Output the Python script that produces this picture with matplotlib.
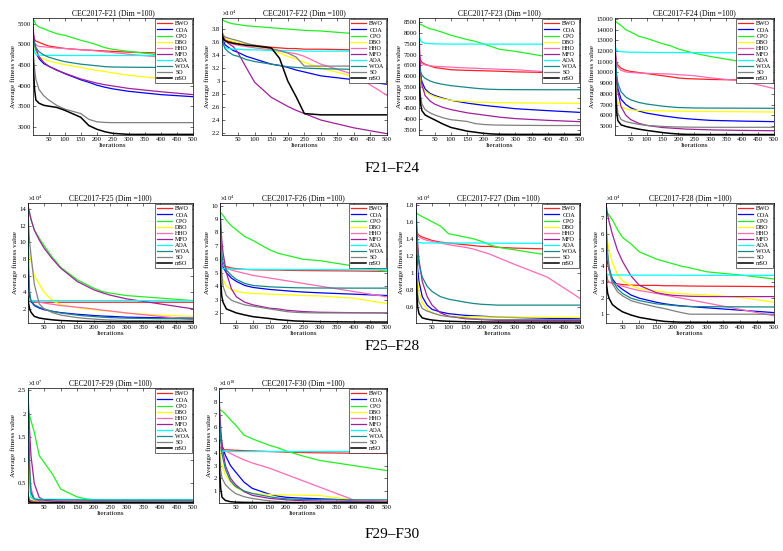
import matplotlib
matplotlib.use("Agg")
import matplotlib.pyplot as plt
from matplotlib.ticker import FuncFormatter

plt.rcParams['font.family'] = ['Liberation Serif', 'DejaVu Serif']
plt.rcParams['mathtext.fontset'] = 'stix'

algorithms = ["BWO", "COA", "CPO", "DBO", "HHO", "MFO", "AOA", "WOA", "SO", "mSO"]
colors = ["#ff2020", "#0000ff", "#20f020", "#ffff00", "#ff69b4",
          "#a0209a", "#00ffff", "#168888", "#808080", "#000000"]

iters = [1, 3, 6, 10, 20, 35, 50, 75, 100, 150, 175, 200, 225, 250, 300, 400, 500]

# rows follow the order of `algorithms`; values in the units shown on the y axis
F21 = [
    [5350, 5200, 5120, 5080, 5050, 5000, 4960, 4930, 4900, 4870, 4860, 4850, 4840, 4830, 4810, 4790, 4780],
    [5100, 5000, 4900, 4800, 4650, 4530, 4470, 4380, 4290, 4140, 4080, 4010, 3960, 3920, 3860, 3780, 3730],
    [5640, 5600, 5550, 5480, 5420, 5380, 5330, 5260, 5220, 5100, 5050, 4990, 4920, 4880, 4830, 4740, 4580],
    [5000, 4950, 4880, 4800, 4700, 4640, 4600, 4550, 4510, 4440, 4400, 4370, 4340, 4310, 4250, 4170, 4060],
    [5200, 5100, 5020, 4980, 4950, 4940, 4930, 4910, 4900, 4870, 4860, 4840, 4820, 4800, 4760, 4690, 4620],
    [5450, 5250, 5050, 4900, 4700, 4560, 4470, 4370, 4300, 4160, 4110, 4060, 4020, 3990, 3930, 3850, 3780],
    [5050, 4900, 4800, 4760, 4740, 4735, 4735, 4732, 4730, 4730, 4730, 4730, 4730, 4729, 4729, 4728, 4728],
    [5200, 5100, 5000, 4920, 4820, 4740, 4690, 4630, 4580, 4520, 4500, 4480, 4460, 4450, 4445, 4440, 4440],
    [5100, 4700, 4400, 4150, 3900, 3750, 3650, 3520, 3430, 3320, 3180, 3120, 3105, 3100, 3100, 3100, 3100],
    [4900, 4300, 3900, 3650, 3570, 3520, 3500, 3470, 3400, 3230, 3030, 2940, 2880, 2840, 2815, 2815, 2815],
]
F22 = [
    [3.78, 3.72, 3.68, 3.65, 3.62, 3.60, 3.58, 3.56, 3.55, 3.52, 3.51, 3.50, 3.50, 3.49, 3.49, 3.48, 3.48],
    [3.72, 3.66, 3.60, 3.56, 3.52, 3.47, 3.44, 3.38, 3.34, 3.26, 3.24, 3.21, 3.17, 3.14, 3.08, 3.02, 2.95],
    [3.95, 3.94, 3.93, 3.92, 3.90, 3.88, 3.87, 3.85, 3.84, 3.82, 3.81, 3.80, 3.79, 3.78, 3.77, 3.73, 3.70],
    [3.74, 3.70, 3.67, 3.65, 3.63, 3.61, 3.59, 3.56, 3.53, 3.48, 3.43, 3.38, 3.34, 3.29, 3.20, 3.07, 2.97],
    [3.72, 3.68, 3.65, 3.63, 3.60, 3.57, 3.55, 3.53, 3.51, 3.48, 3.46, 3.44, 3.42, 3.38, 3.26, 3.10, 2.78],
    [3.80, 3.72, 3.67, 3.63, 3.58, 3.53, 3.43, 3.20, 2.98, 2.75, 2.68, 2.61, 2.55, 2.50, 2.40, 2.28, 2.19],
    [3.75, 3.62, 3.55, 3.52, 3.50, 3.49, 3.49, 3.48, 3.48, 3.47, 3.47, 3.47, 3.47, 3.46, 3.46, 3.46, 3.46],
    [3.70, 3.62, 3.56, 3.50, 3.45, 3.40, 3.38, 3.33, 3.30, 3.26, 3.24, 3.22, 3.21, 3.20, 3.19, 3.18, 3.18],
    [3.76, 3.72, 3.70, 3.68, 3.66, 3.64, 3.62, 3.58, 3.55, 3.50, 3.47, 3.43, 3.37, 3.23, 3.23, 3.23, 3.23],
    [3.72, 3.68, 3.64, 3.62, 3.60, 3.58, 3.57, 3.55, 3.54, 3.51, 3.35, 3.00, 2.76, 2.50, 2.48, 2.48, 2.48],
]
F23 = [
    [7100, 6900, 6750, 6650, 6550, 6480, 6400, 6350, 6300, 6270, 6260, 6250, 6240, 6230, 6200, 6170, 6130],
    [6800, 6300, 6000, 5750, 5400, 5200, 5100, 4980, 4880, 4750, 4700, 4650, 4610, 4570, 4490, 4400, 4320],
    [8450, 8420, 8400, 8380, 8300, 8200, 8150, 8030, 7900, 7700, 7620, 7500, 7380, 7250, 7150, 6900, 6670],
    [7200, 6200, 5700, 5500, 5300, 5150, 5050, 4950, 4880, 4820, 4800, 4790, 4780, 4770, 4760, 4750, 4740],
    [6950, 6750, 6650, 6580, 6520, 6480, 6460, 6440, 6420, 6380, 6370, 6350, 6340, 6320, 6300, 6200, 5880],
    [8650, 7200, 6200, 5600, 5100, 4850, 4700, 4550, 4450, 4300, 4250, 4200, 4150, 4100, 4030, 3950, 3890],
    [8000, 7800, 7650, 7580, 7530, 7510, 7500, 7495, 7490, 7490, 7490, 7488, 7488, 7487, 7486, 7485, 7485],
    [6900, 6400, 6200, 6050, 5900, 5780, 5700, 5620, 5560, 5480, 5440, 5410, 5390, 5380, 5375, 5370, 5370],
    [6900, 5800, 5100, 4700, 4450, 4300, 4200, 4070, 3980, 3900, 3800, 3760, 3740, 3730, 3720, 3710, 3710],
    [6700, 5300, 4700, 4400, 4200, 4080, 3970, 3780, 3620, 3450, 3400, 3350, 3320, 3305, 3300, 3300, 3300],
]
F24 = [
    [12300, 11500, 11000, 10700, 10400, 10200, 10100, 10000, 9900, 9700, 9600, 9480, 9430, 9400, 9350, 9300, 9250],
    [12500, 10500, 9300, 8500, 7500, 7000, 6700, 6400, 6200, 5950, 5850, 5750, 5680, 5620, 5520, 5450, 5400],
    [15000, 14800, 14700, 14600, 14400, 14000, 13800, 13400, 13200, 12700, 12500, 12200, 12000, 11800, 11500, 11000, 10600],
    [11500, 9000, 7800, 7200, 6800, 6600, 6500, 6450, 6420, 6400, 6390, 6380, 6370, 6360, 6350, 6330, 6300],
    [12800, 11500, 10800, 10500, 10200, 10050, 10000, 9950, 9920, 9880, 9850, 9800, 9750, 9700, 9500, 9200, 8500],
    [14800, 11500, 9500, 8200, 6800, 6000, 5600, 5250, 5050, 4850, 4800, 4750, 4700, 4680, 4630, 4580, 4550],
    [12600, 12300, 12100, 12000, 11950, 11920, 11900, 11900, 11880, 11870, 11870, 11860, 11860, 11860, 11850, 11850, 11850],
    [12800, 11000, 9800, 9000, 8200, 7700, 7450, 7200, 7050, 6850, 6780, 6720, 6700, 6680, 6670, 6660, 6650],
    [12200, 9000, 7200, 6200, 5600, 5400, 5300, 5150, 5050, 4950, 4920, 4900, 4890, 4880, 4870, 4870, 4870],
    [11800, 8000, 6300, 5500, 5100, 4950, 4850, 4700, 4580, 4380, 4300, 4240, 4210, 4200, 4190, 4190, 4190],
]
F25 = [
    [3.5, 3.0, 2.9, 2.85, 2.8, 2.8, 2.8, 2.8, 2.8, 2.8, 2.8, 2.8, 2.8, 2.8, 2.8, 2.8, 2.8],
    [10, 5, 3.5, 2.9, 2.4, 2.1, 1.9, 1.7, 1.55, 1.35, 1.28, 1.2, 1.14, 1.1, 1.0, 0.93, 0.88],
    [14.6, 14, 13.5, 12.8, 11.5, 10.5, 9.6, 8.2, 7.0, 5.5, 5.0, 4.5, 4.1, 3.9, 3.6, 3.3, 3.0],
    [9.6, 9.0, 8.5, 7.8, 6.0, 5.0, 4.0, 3.0, 2.5, 2.15, 2.0, 1.9, 1.8, 1.7, 1.5, 1.25, 1.1],
    [3.3, 3.1, 3.0, 3.0, 2.9, 2.8, 2.7, 2.55, 2.4, 2.2, 2.1, 2.0, 1.85, 1.75, 1.5, 1.1, 0.7],
    [14.7, 14, 13.5, 12.8, 11.5, 10.3, 9.3, 8.0, 6.9, 5.3, 4.8, 4.3, 3.95, 3.65, 3.2, 2.6, 2.0],
    [3.2, 3.1, 3.05, 3.0, 3.0, 3.0, 3.0, 3.0, 3.0, 3.0, 3.0, 3.0, 3.0, 3.0, 3.0, 2.98, 2.98],
    [14, 7, 4, 3, 2.5, 2.2, 2.0, 1.7, 1.5, 1.25, 1.15, 1.08, 1.0, 0.95, 0.88, 0.82, 0.8],
    [14, 12, 10, 8.5, 5, 2.6, 2.0, 1.55, 1.25, 0.95, 0.85, 0.78, 0.7, 0.65, 0.6, 0.56, 0.55],
    [3.3, 2.6, 2.0, 1.6, 1.1, 0.9, 0.8, 0.68, 0.6, 0.52, 0.5, 0.48, 0.47, 0.46, 0.45, 0.45, 0.45],
]
F26 = [
    [6.2, 5.8, 5.6, 5.5, 5.45, 5.35, 5.3, 5.25, 5.22, 5.2, 5.2, 5.18, 5.17, 5.16, 5.15, 5.13, 5.1],
    [6.9, 6.3, 5.8, 5.4, 5.0, 4.6, 4.35, 4.05, 3.9, 3.75, 3.7, 3.65, 3.6, 3.56, 3.5, 3.4, 3.3],
    [9.6, 9.5, 9.4, 9.3, 8.9, 8.5, 8.2, 7.7, 7.4, 6.7, 6.45, 6.3, 6.15, 6.0, 5.9, 5.5, 5.1],
    [6.0, 5.2, 4.8, 4.5, 4.0, 3.75, 3.62, 3.5, 3.45, 3.4, 3.38, 3.36, 3.33, 3.3, 3.27, 3.1, 2.7],
    [6.0, 5.7, 5.6, 5.5, 5.35, 5.2, 5.1, 4.95, 4.8, 4.6, 4.5, 4.4, 4.3, 4.2, 4.0, 3.6, 3.2],
    [10.2, 9.0, 7.5, 6.5, 5.0, 3.8, 3.2, 2.8, 2.6, 2.35, 2.3, 2.2, 2.15, 2.1, 2.05, 2.02, 2.0],
    [5.6, 5.4, 5.35, 5.3, 5.28, 5.27, 5.26, 5.25, 5.25, 5.24, 5.24, 5.24, 5.23, 5.23, 5.23, 5.22, 5.22],
    [9.8, 8.0, 6.5, 5.8, 5.2, 4.8, 4.5, 4.2, 4.05, 3.95, 3.92, 3.9, 3.88, 3.87, 3.86, 3.85, 3.85],
    [9.8, 7.0, 5.0, 4.0, 3.3, 2.95, 2.8, 2.6, 2.5, 2.3, 2.2, 2.1, 2.05, 2.02, 2.0, 2.0, 2.0],
    [6.5, 4.5, 3.3, 2.8, 2.3, 2.15, 2.0, 1.85, 1.72, 1.58, 1.5, 1.45, 1.4, 1.38, 1.35, 1.33, 1.32],
]
F27 = [
    [1.52, 1.48, 1.46, 1.44, 1.42, 1.40, 1.38, 1.36, 1.35, 1.33, 1.32, 1.31, 1.31, 1.30, 1.29, 1.28, 1.26],
    [1.55, 1.3, 1.05, 0.9, 0.72, 0.62, 0.57, 0.54, 0.52, 0.50, 0.495, 0.49, 0.485, 0.48, 0.475, 0.465, 0.46],
    [1.72, 1.70, 1.69, 1.68, 1.66, 1.63, 1.60, 1.55, 1.46, 1.42, 1.40, 1.37, 1.33, 1.30, 1.27, 1.21, 1.15],
    [1.35, 1.1, 0.9, 0.78, 0.65, 0.57, 0.53, 0.50, 0.49, 0.485, 0.483, 0.482, 0.48, 0.48, 0.48, 0.478, 0.475],
    [1.52, 1.48, 1.45, 1.42, 1.40, 1.38, 1.37, 1.35, 1.33, 1.30, 1.28, 1.25, 1.22, 1.18, 1.10, 0.95, 0.70],
    [1.80, 1.60, 1.35, 1.15, 0.90, 0.72, 0.62, 0.53, 0.49, 0.46, 0.455, 0.45, 0.445, 0.44, 0.44, 0.44, 0.44],
    [1.38, 1.37, 1.36, 1.355, 1.35, 1.35, 1.35, 1.35, 1.35, 1.35, 1.35, 1.35, 1.348, 1.348, 1.347, 1.346, 1.345],
    [1.75, 1.45, 1.25, 1.10, 0.95, 0.84, 0.78, 0.72, 0.69, 0.655, 0.64, 0.63, 0.625, 0.62, 0.62, 0.62, 0.62],
    [1.30, 0.95, 0.75, 0.66, 0.58, 0.55, 0.53, 0.50, 0.485, 0.47, 0.46, 0.455, 0.452, 0.45, 0.45, 0.45, 0.45],
    [1.20, 0.80, 0.60, 0.52, 0.47, 0.455, 0.445, 0.435, 0.43, 0.425, 0.423, 0.422, 0.421, 0.42, 0.42, 0.42, 0.42],
]
F28 = [
    [4.3, 3.5, 3.1, 3.0, 2.95, 2.9, 2.85, 2.82, 2.8, 2.8, 2.78, 2.78, 2.77, 2.76, 2.75, 2.74, 2.72],
    [5.5, 4.8, 4.2, 3.8, 3.2, 2.8, 2.55, 2.2, 2.0, 1.75, 1.65, 1.58, 1.52, 1.48, 1.4, 1.25, 1.1],
    [7.5, 7.4, 7.3, 7.2, 6.9, 6.3, 5.8, 5.4, 4.9, 4.45, 4.3, 4.15, 4.0, 3.9, 3.65, 3.45, 3.2],
    [6.6, 6.0, 5.5, 5.0, 4.2, 3.5, 3.1, 2.8, 2.6, 2.45, 2.38, 2.32, 2.28, 2.25, 2.2, 2.05, 1.75],
    [3.5, 3.2, 3.05, 3.0, 2.95, 2.85, 2.75, 2.6, 2.48, 2.3, 2.2, 2.1, 2.0, 1.9, 1.7, 1.3, 0.9],
    [8.0, 7.6, 7.2, 6.8, 6.0, 5.0, 4.3, 3.4, 2.8, 2.35, 2.25, 2.18, 2.15, 2.12, 2.1, 2.1, 2.1],
    [3.6, 3.5, 3.48, 3.45, 3.45, 3.45, 3.45, 3.44, 3.44, 3.44, 3.44, 3.44, 3.43, 3.43, 3.43, 3.43, 3.43],
    [7.6, 6.0, 4.8, 4.0, 3.1, 2.6, 2.3, 2.0, 1.85, 1.65, 1.6, 1.55, 1.5, 1.48, 1.47, 1.46, 1.45],
    [7.0, 5.5, 4.5, 3.8, 2.9, 2.4, 2.15, 1.85, 1.7, 1.45, 1.35, 1.22, 1.1, 1.0, 1.0, 1.0, 1.0],
    [3.5, 2.8, 2.3, 2.0, 1.6, 1.35, 1.15, 0.95, 0.8, 0.62, 0.55, 0.52, 0.5, 0.5, 0.5, 0.5, 0.5],
]
F29 = [
    [0.3, 0.2, 0.15, 0.13, 0.12, 0.12, 0.12, 0.12, 0.12, 0.12, 0.12, 0.12, 0.12, 0.12, 0.12, 0.12, 0.12],
    [1.5, 0.9, 0.5, 0.3, 0.15, 0.12, 0.11, 0.1, 0.1, 0.1, 0.1, 0.1, 0.1, 0.1, 0.1, 0.1, 0.1],
    [2.05, 2.02, 1.95, 1.85, 1.6, 1.1, 0.95, 0.7, 0.38, 0.21, 0.17, 0.15, 0.14, 0.13, 0.12, 0.115, 0.11],
    [1.0, 0.6, 0.35, 0.2, 0.13, 0.11, 0.1, 0.1, 0.1, 0.1, 0.1, 0.09, 0.09, 0.09, 0.09, 0.09, 0.09],
    [2.2, 1.6, 0.9, 0.4, 0.15, 0.12, 0.11, 0.1, 0.1, 0.1, 0.1, 0.1, 0.1, 0.1, 0.1, 0.1, 0.1],
    [2.45, 2.1, 1.6, 1.1, 0.5, 0.2, 0.14, 0.12, 0.11, 0.1, 0.1, 0.1, 0.1, 0.1, 0.1, 0.1, 0.1],
    [2.5, 1.5, 0.5, 0.2, 0.16, 0.16, 0.16, 0.16, 0.16, 0.155, 0.155, 0.155, 0.15, 0.15, 0.15, 0.15, 0.15],
    [2.5, 1.8, 0.8, 0.3, 0.17, 0.15, 0.15, 0.15, 0.145, 0.145, 0.14, 0.14, 0.14, 0.14, 0.14, 0.14, 0.14],
    [0.3, 0.2, 0.14, 0.11, 0.1, 0.1, 0.095, 0.095, 0.09, 0.09, 0.09, 0.09, 0.09, 0.09, 0.09, 0.09, 0.09],
    [0.2, 0.12, 0.1, 0.09, 0.088, 0.087, 0.086, 0.086, 0.085, 0.085, 0.085, 0.085, 0.085, 0.085, 0.085, 0.085, 0.085],
]
F30 = [
    [4.4, 4.3, 4.28, 4.26, 4.24, 4.22, 4.2, 4.17, 4.15, 4.1, 4.08, 4.05, 4.03, 4.02, 4.0, 3.97, 3.95],
    [7.0, 6.2, 5.3, 4.6, 3.8, 3.0, 2.5, 1.7, 1.2, 0.75, 0.6, 0.5, 0.46, 0.43, 0.38, 0.28, 0.15],
    [7.5, 7.4, 7.35, 7.3, 7.05, 6.6, 6.2, 5.4, 5.1, 4.6, 4.4, 4.15, 3.95, 3.75, 3.4, 3.0, 2.6],
    [5.0, 4.3, 3.6, 3.0, 2.3, 1.7, 1.3, 0.95, 0.8, 0.72, 0.7, 0.68, 0.67, 0.66, 0.64, 0.3, 0.15],
    [4.6, 4.5, 4.4, 4.3, 4.15, 3.95, 3.75, 3.45, 3.2, 2.8, 2.55, 2.3, 2.05, 1.8, 1.3, 0.3, 0.2],
    [8.8, 7.5, 6.0, 4.6, 3.0, 2.0, 1.5, 0.95, 0.65, 0.42, 0.36, 0.3, 0.26, 0.23, 0.2, 0.16, 0.13],
    [4.4, 4.25, 4.2, 4.15, 4.12, 4.1, 4.1, 4.1, 4.1, 4.1, 4.1, 4.1, 4.1, 4.1, 4.1, 4.1, 4.1],
    [8.0, 6.5, 5.0, 3.9, 2.7, 1.8, 1.35, 1.0, 0.8, 0.55, 0.45, 0.38, 0.35, 0.33, 0.31, 0.3, 0.3],
    [5.4, 3.8, 2.6, 2.0, 1.5, 1.1, 0.8, 0.55, 0.4, 0.22, 0.17, 0.13, 0.12, 0.11, 0.1, 0.1, 0.1],
    [5.0, 2.5, 1.2, 0.5, 0.25, 0.15, 0.12, 0.1, 0.09, 0.08, 0.08, 0.07, 0.07, 0.07, 0.07, 0.07, 0.07],
]

panels = [F21, F22, F23, F24, F25, F26, F27, F28, F29, F30]
names = ["F21", "F22", "F23", "F24", "F25", "F26", "F27", "F28", "F29", "F30"]
exponents = [0, 4, 0, 0, 4, 4, 4, 4, 7, 10]
ylims = [(2800, 5640), (2.17, 3.97), (3270, 8700), (4150, 15100), (0.3, 14.75),
         (1.25, 10.2), (0.41, 1.82), (0.45, 7.95), (0.08, 2.55), (0.05, 9.1)]
yticks = [[3000, 3500, 4000, 4500, 5000, 5500],
          [2.2, 2.4, 2.6, 2.8, 3.0, 3.2, 3.4, 3.6, 3.8],
          [3500, 4000, 4500, 5000, 5500, 6000, 6500, 7000, 7500, 8000, 8500],
          [5000, 6000, 7000, 8000, 9000, 10000, 11000, 12000, 13000, 14000, 15000],
          [2, 4, 6, 8, 10, 12, 14],
          [2, 3, 4, 5, 6, 7, 8, 9, 10],
          [0.6, 0.8, 1.0, 1.2, 1.4, 1.6, 1.8],
          [1, 2, 3, 4, 5, 6, 7],
          [0.5, 1.0, 1.5, 2.0, 2.5],
          [1, 2, 3, 4, 5, 6, 7, 8, 9]]
xticks = [50, 100, 150, 200, 250, 300, 350, 400, 450, 500]

W, H = 783, 551
# axes boxes in pixels: left, top, right, bottom
boxes = [(33, 18, 193, 135), (222, 18, 387, 135), (419, 18, 580, 135), (615, 18, 774, 135),
         (28, 203, 193, 323), (220, 203, 387, 323), (416, 203, 580, 323), (606, 203, 774, 323),
         (28, 388, 193, 503), (219, 388, 387, 503)]

fig = plt.figure(figsize=(W / 100, H / 100), dpi=100)
gfmt = FuncFormatter(lambda v, pos: "%g" % round(v, 6))

for k, data in enumerate(panels):
    l, t, r, b = boxes[k]
    ax = fig.add_axes([l / W, 1 - b / H, (r - l) / W, (b - t) / H])
    for i, name in enumerate(algorithms):
        ax.plot(iters, data[i], color=colors[i], lw=1.1 if name == "mSO" else 0.9, label=name)
    ax.set_xlim(1, 500)
    ax.set_ylim(ylims[k])
    ax.set_xticks(xticks)
    ax.set_yticks(yticks[k])
    ax.yaxis.set_major_formatter(gfmt)
    if exponents[k]:
        ax.text(0.0, 1.005, r"$\times\mathregular{10^{%d}}$" % exponents[k],
                transform=ax.transAxes, fontsize=4.5, ha="left", va="bottom")
    ax.tick_params(direction='in', length=2, width=0.4, labelsize=4.8, pad=1.5,
                   top=True, right=True)
    for s in ax.spines.values():
        s.set_linewidth(0.5)
    ax.set_title("CEC2017-" + names[k] + " (Dim =100)", fontsize=5.5, pad=2)
    ax.set_xlabel("Iterations", fontsize=5.2, labelpad=1)
    ax.set_ylabel("Average fitness value", fontsize=5.2, labelpad=1)
    leg = ax.legend(loc="upper right", fontsize=4.3, fancybox=False, framealpha=1,
                    edgecolor="black", borderpad=0.3, labelspacing=0.15,
                    handlelength=2.6, handletextpad=0.5, borderaxespad=0.25)
    leg.get_frame().set_linewidth(0.4)

fig.text(392 / W, 1 - 168 / H, "F21\u2013F24", ha="center", va="center", fontsize=11)
fig.text(392 / W, 1 - 346 / H, "F25\u2013F28", ha="center", va="center", fontsize=11)
fig.text(392 / W, 1 - 535 / H, "F29\u2013F30", ha="center", va="center", fontsize=11)

fig.savefig("out.png", dpi=100)
